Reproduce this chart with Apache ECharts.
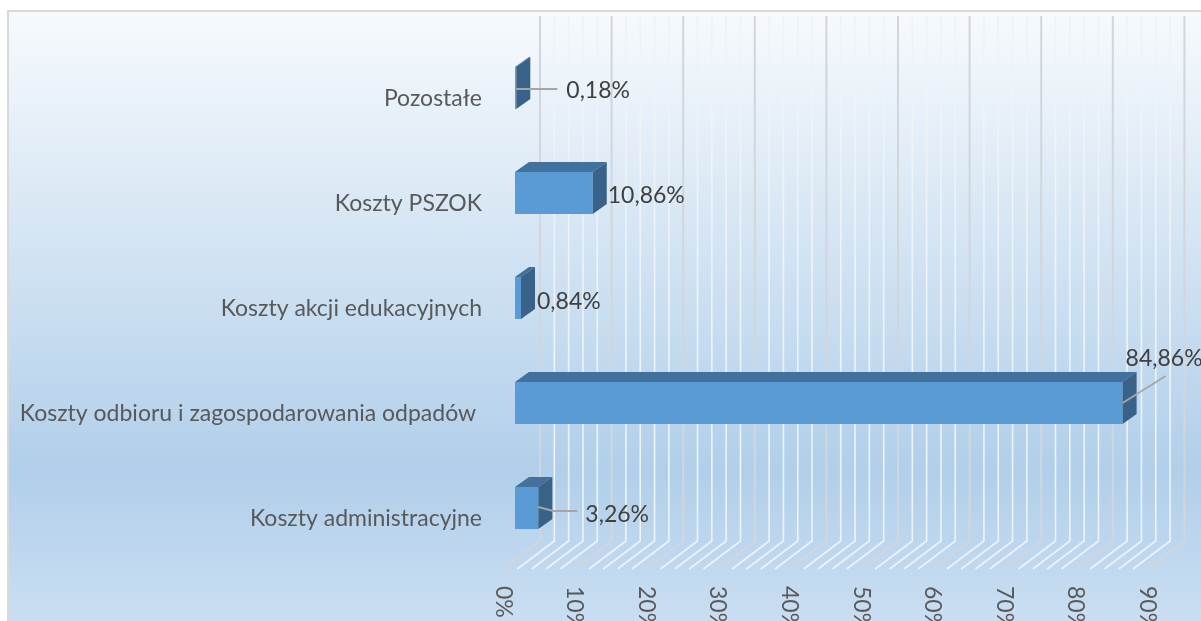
<!DOCTYPE html>
<html>
<head>
<meta charset="utf-8">
<style>
  html, body { margin: 0; padding: 0; background: #fff; overflow: hidden; }
  #chart { width: 1201px; height: 621px; }
</style>
<script src="https://cdn.jsdelivr.net/npm/echarts@6/dist/echarts.min.js"></script>
</head>
<body>
<div id="chart"></div>
<script>
// kategorie od dolu do gory
const categories = [
  'Koszty administracyjne',
  'Koszty odbioru i zagospodarowania odpadów ',
  'Koszty akcji edukacyjnych',
  'Koszty PSZOK',
  'Pozostałe'
]
const values = [3.26, 84.86, 0.84, 10.86, 0.18]
const gridTicks = [0, 2, 4, 6, 8, 10, 12, 14, 16, 18, 20, 22, 24, 26, 28, 30, 32, 34, 36, 38, 40, 42, 44,
  46, 48, 50, 52, 54, 56, 58, 60, 62, 64, 66, 68, 70, 72, 74, 76, 78, 80, 82, 84, 86, 88, 90]

// przesuniecia etykiet i linii wiodacych wzgledem konca slupka
const labelOffsets = [[47, 7], [3, -44], [16, 4], [15, 3], [50, 3]]
const leaders = [
  [[0, -1], [15, 3], [39, 3]],
  [[0, 0], [43, -27]],
  null,
  null,
  [[0, 1], [41, 1]]
]

const floorDx = 37, floorDy = 28, wallTop = 16, floorRaise = 2
const barShiftX = 12, barShiftY = -10.5, barDx = 14, barDy = 10
const textColor = '#595959'

function renderWall(params, api) {
  const rect = params.coordSys
  const v = api.value(0)
  const x = api.coord([v, 0])[0]
  const bottom = rect.y + rect.height - floorRaise
  const major = v % 10 === 0
  return {
    type: 'polyline',
    shape: { points: [[x, bottom], [x + floorDx, bottom - floorDy], [x + floorDx, wallTop]] },
    style: { fill: 'none', stroke: major ? '#d2d6da' : '#eef3f8', lineWidth: major ? 2 : 1.6 }
  }
}

function renderBar(params, api) {
  const i = params.dataIndex
  const end = api.coord([api.value(0), api.value(1)])
  const start = api.coord([0, api.value(1)])
  const h = api.size([0, 1])[1] * 0.4
  const x0 = start[0] + barShiftX
  const x1 = end[0] + barShiftX
  const cy = end[1] + barShiftY
  const yt = cy - h / 2
  const yb = cy + h / 2
  const children = [
    { type: 'rect', shape: { x: x0, y: yt, width: x1 - x0, height: h }, style: { fill: '#5b9bd5' } },
    {
      type: 'polygon',
      shape: { points: [[x0, yt], [x1, yt], [x1 + barDx, yt - barDy], [x0 + barDx, yt - barDy]] },
      style: { fill: '#41719c' }
    },
    {
      type: 'polygon',
      shape: { points: [[x1, yt], [x1, yb], [x1 + barDx, yb - barDy], [x1 + barDx, yt - barDy]] },
      style: { fill: '#386288' }
    }
  ]
  if (leaders[i]) {
    children.push({
      type: 'polyline',
      shape: { points: leaders[i].map(p => [x1 + p[0], cy + p[1]]) },
      style: { fill: 'none', stroke: '#a6a6a6', lineWidth: 2 }
    })
  }
  children.push({
    type: 'text',
    style: {
      x: x1 + labelOffsets[i][0],
      y: cy + labelOffsets[i][1],
      text: api.value(0).toFixed(2).replace('.', ',') + '%',
      fill: '#404040',
      font: '23px Lato',
      textAlign: 'left',
      textVerticalAlign: 'middle'
    }
  })
  return { type: 'group', children: children }
}

const chartInstance = echarts.init(document.getElementById('chart'))
chartInstance.setOption({
  animation: false,
  textStyle: { fontFamily: 'Lato' },
  graphic: [{
    type: 'rect',
    z: -10,
    shape: { x: 8, y: 11, width: 1200, height: 620 },
    style: {
      stroke: '#d9d9d9',
      lineWidth: 2,
      fill: {
        type: 'linear', x: 0, y: 0, x2: 0, y2: 1,
        colorStops: [
          { offset: 0, color: '#f7fafd' },
          { offset: 0.74, color: '#b1cfea' },
          { offset: 1, color: '#cbdff2' }
        ]
      }
    }
  }],
  grid: { left: 503, top: 46, width: 644.4, height: 525, outerBoundsMode: 'none' },
  xAxis: {
    type: 'value',
    min: 0,
    max: 90,
    interval: 10,
    axisLine: { show: false },
    axisTick: { show: false },
    splitLine: { show: false },
    axisLabel: { rotate: -90, margin: 15, fontSize: 23, color: textColor, formatter: '{value}%' }
  },
  yAxis: {
    type: 'category',
    data: categories,
    axisLine: { show: false },
    axisTick: { show: false },
    axisLabel: { margin: 21, fontSize: 23, color: textColor }
  },
  series: [
    {
      name: 'siatka',
      type: 'custom',
      clip: false,
      z: 1,
      renderItem: renderWall,
      encode: { x: 0 },
      data: gridTicks.map(t => [t])
    },
    {
      name: 'koszty',
      type: 'custom',
      clip: false,
      z: 2,
      renderItem: renderBar,
      encode: { x: 0, y: 1 },
      data: values.map((v, i) => [v, i])
    }
  ]
})
</script>
</body>
</html>
